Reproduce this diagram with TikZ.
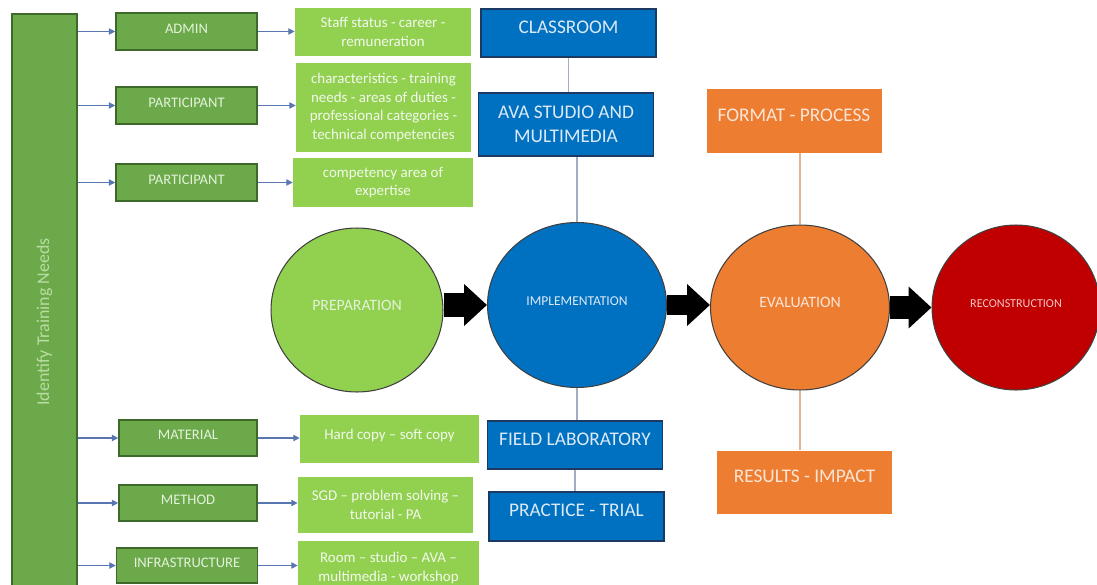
\documentclass[tikz,border=0pt]{standalone}
\usepackage{fontspec}
\setmainfont{Carlito}
\usetikzlibrary{shapes.geometric,arrows.meta}

\definecolor{needfill}{HTML}{6BA94A}
\definecolor{needline}{HTML}{3D6A2A}
\definecolor{needtext}{HTML}{E4F2DA}
\definecolor{barfont}{HTML}{B9DDA0}
\definecolor{leaffill}{HTML}{92D050}
\definecolor{leaftext}{HTML}{F2F9EC}
\definecolor{bluefill}{HTML}{0070C0}
\definecolor{blueline}{HTML}{1B3A63}
\definecolor{bluetext}{HTML}{DCEAF8}
\definecolor{orangefill}{HTML}{ED7D31}
\definecolor{orangetext}{HTML}{FBE5D6}
\definecolor{redfill}{HTML}{C00000}
\definecolor{redtext}{HTML}{F8C6C6}
\definecolor{flowblue}{HTML}{5877B0}
\definecolor{linkgray}{HTML}{A3ADC0}
\definecolor{linkorange}{HTML}{E3B48F}

\tikzstyle{need} = [rectangle, minimum width=2.82cm, minimum height=0.74cm, inner sep=0pt, text centered, draw=needline, line width=0.9pt, fill=needfill, text=needtext, font=\fontsize{8.3}{10}\selectfont, text height=6pt, text depth=0.14cm]
\tikzstyle{leaf} = [rectangle, inner sep=0pt, align=center, fill=leaffill, text=leaftext, font=\fontsize{8.5}{10.6}\selectfont]
\tikzstyle{place} = [rectangle, minimum width=3.5cm, inner sep=0pt, align=center, draw=blueline, line width=1pt, fill=bluefill, text=bluetext, font=\fontsize{11}{14}\selectfont, text height=6pt, text depth=0.2cm]
\tikzstyle{check} = [rectangle, minimum width=3.5cm, minimum height=1.27cm, inner sep=0pt, fill=orangefill, text=orangetext, font=\fontsize{11}{14}\selectfont, text height=6pt, text depth=0.2cm]
\tikzstyle{stage} = [ellipse, inner sep=0pt, draw=black!75, line width=0.6pt, text height=6pt, text depth=0.2cm]
\tikzstyle{flow} = [draw=flowblue, line width=0.6pt, -{Triangle[length=3.6pt,width=3.6pt]}]
\tikzstyle{bigflow} = [line width=13.5pt, -{Triangle[length=13pt,width=23pt]}]
\tikzstyle{link} = [draw=linkgray, line width=0.8pt]
\tikzstyle{olink} = [draw=linkorange, line width=0.8pt]

\begin{document}
\begin{tikzpicture}[x=0.02cm, y=-0.02cm]
      \useasboundingbox (0,0) rectangle (1097,584);

      % needs column
      \node (needs) [rectangle, minimum width=1.3cm, minimum height=12.32cm, draw=needline, line width=0.9pt, fill=needfill, text=barfont, font=\fontsize{10.2}{12}\selectfont] at (44.5,322) {\rotatebox{90}{Identify Training Needs}\hspace{0.22cm}};

      \node (admin) [need] at (186.5,31.5) {ADMIN};
      \node (part) [need] at (186.5,105.5) {PARTICIPANT};
      \node (partcomp) [need] at (186.5,182.5) {PARTICIPANT};
      \node (material) [need, minimum width=2.76cm, minimum height=0.72cm] at (188,438) {MATERIAL};
      \node (method) [need, minimum width=2.76cm, minimum height=0.72cm] at (188,503) {METHOD};
      \node (infra) [need, minimum height=0.7cm] at (187,565.5) {INFRASTRUCTURE};

      \node (staff) [leaf, minimum width=3.52cm, minimum height=0.96cm] at (383,32) {Staff status - career -\\remuneration};
      \node (profile) [leaf, minimum width=3.5cm, minimum height=1.78cm] at (383.5,107.5) {characteristics - training\\needs - areas of duties -\\professional categories -\\technical competencies};
      \node (expertise) [leaf, minimum width=3.6cm, minimum height=0.98cm] at (383,182.5) {competency area of\\expertise};
      \node (copy) [leaf, minimum width=3.58cm, minimum height=0.96cm, text height=6pt, text depth=0.18cm] at (389.5,439) {Hard copy -- soft copy};
      \node (sgd) [leaf, minimum width=3.5cm, minimum height=1.12cm] at (385.5,505) {SGD -- problem solving --\\tutorial - PA};
      \node (room) [leaf, minimum width=3.62cm, minimum height=1.1cm] at (388.5,568) {Room -- studio -- AVA --\\multimedia - workshop};

      \draw [flow] (needs.east |- admin) -- (admin);
      \draw [flow] (needs.east |- part) -- (part);
      \draw [flow] (needs.east |- partcomp) -- (partcomp);
      \draw [flow] (needs.east |- material) -- (material);
      \draw [flow] (needs.east |- method) -- (method);
      \draw [flow] (needs.east |- infra) -- (infra);

      \draw [flow] (admin) -- (admin -| staff.west);
      \draw [flow] (part) -- (part -| profile.west);
      \draw [flow] (partcomp) -- (partcomp -| expertise.west);
      \draw [flow] (material) -- (material -| copy.west);
      \draw [flow] (method) -- (method -| sgd.west);
      \draw [flow] (infra) -- (infra -| room.west);

      % stages
      \node (prep) [stage, minimum width=3.44cm, minimum height=3.28cm, fill=leaffill, text=needtext, font=\fontsize{9}{11}\selectfont] at (357,310) {PREPARATION};
      \node (impl) [stage, minimum width=3.58cm, minimum height=3.3cm, fill=bluefill, text=bluetext, font=\fontsize{7.7}{9}\selectfont] at (577,305) {IMPLEMENTATION};
      \node (eval) [stage, minimum width=3.58cm, minimum height=3.3cm, fill=orangefill, text=orangetext, font=\fontsize{9}{11}\selectfont] at (800,307.5) {EVALUATION};
      \node (recon) [stage, minimum width=3.36cm, minimum height=3.3cm, fill=redfill, text=redtext, font=\fontsize{6.9}{8}\selectfont] at (1016,307.5) {RECONSTRUCTION};

      \draw [bigflow] (prep.east |- impl.west) -- (impl.west);
      \draw [bigflow, line width=11.5pt] (impl.east) -- (impl.east -| eval.west);
      \draw [bigflow] (eval.east) -- (eval.east -| recon.west);

      % places
      \node (classroom) [place, minimum height=0.96cm] at (568.5,33) {CLASSROOM};
      \node (studio) [place, minimum height=1.26cm, text height=, text depth=] at (566,124.5) {AVA STUDIO AND\\MULTIMEDIA};
      \node (field) [place, minimum height=0.96cm] at (575,445) {FIELD LABORATORY};
      \node (practice) [place, minimum height=0.98cm] at (576.5,516.5) {PRACTICE - TRIAL};

      \draw [link] (classroom) -- (classroom |- studio.north);
      \draw [link] (impl.north |- studio.south) -- (impl.north);
      \draw [link] (impl.south) -- (impl.south |- field.north);
      \draw [link] (field) -- (field |- practice.north);

      % checks
      \node (format) [check] at (794,121) {FORMAT - PROCESS};
      \node (results) [check] at (804.5,482.5) {RESULTS - IMPACT};

      \draw [olink] (eval.north |- format.south) -- (eval.north);
      \draw [olink] (eval.south) -- (eval.south |- results.north);
\end{tikzpicture}
\end{document}
